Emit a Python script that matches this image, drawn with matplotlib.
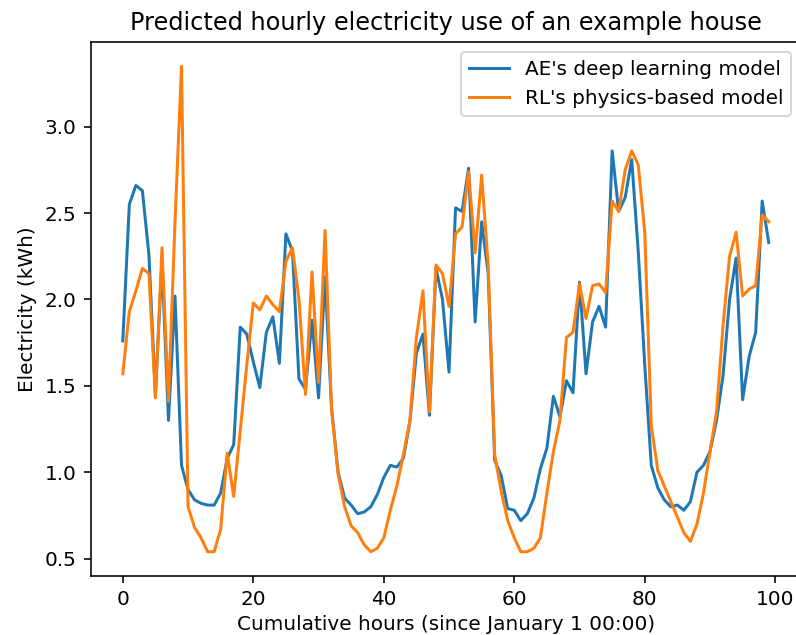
import matplotlib
matplotlib.use("Agg")
import matplotlib.pyplot as plt

hours = list(range(100))

ae_deep_learning = [
    1.76, 2.55, 2.66, 2.63, 2.26, 1.45, 2.22, 1.30, 2.02, 1.04,
    0.90, 0.84, 0.82, 0.81, 0.81, 0.88, 1.08, 1.16, 1.84, 1.80,
    1.64, 1.49, 1.81, 1.90, 1.63, 2.38, 2.28, 1.54, 1.48, 1.88,
    1.43, 2.13, 1.37, 1.00, 0.85, 0.81, 0.76, 0.77, 0.80, 0.87,
    0.97, 1.04, 1.03, 1.08, 1.29, 1.69, 1.80, 1.33, 2.18, 2.00,
    1.58, 2.53, 2.51, 2.76, 1.87, 2.45, 2.15, 1.07, 0.98, 0.79,
    0.78, 0.72, 0.76, 0.85, 1.02, 1.14, 1.44, 1.32, 1.53, 1.46,
    2.10, 1.57, 1.87, 1.96, 1.84, 2.86, 2.51, 2.59, 2.81, 2.28,
    1.62, 1.04, 0.91, 0.84, 0.80, 0.81, 0.78, 0.83, 1.00, 1.04,
    1.12, 1.30, 1.56, 2.00, 2.24, 1.42, 1.67, 1.81, 2.57, 2.33,
]

rl_physics = [
    1.57, 1.93, 2.05, 2.18, 2.15, 1.43, 2.30, 1.41, 2.45, 3.35,
    0.80, 0.68, 0.62, 0.54, 0.54, 0.67, 1.11, 0.86, 1.24, 1.62,
    1.98, 1.94, 2.02, 1.97, 1.93, 2.22, 2.30, 2.00, 1.45, 2.16,
    1.52, 2.40, 1.36, 0.99, 0.80, 0.69, 0.65, 0.58, 0.54, 0.56,
    0.62, 0.78, 0.92, 1.10, 1.30, 1.78, 2.05, 1.35, 2.20, 2.15,
    1.96, 2.38, 2.42, 2.74, 2.27, 2.72, 2.20, 1.10, 0.89, 0.72,
    0.62, 0.54, 0.54, 0.56, 0.62, 0.88, 1.12, 1.30, 1.78, 1.81,
    2.09, 1.89, 2.08, 2.09, 2.04, 2.57, 2.51, 2.75, 2.86, 2.78,
    2.39, 1.27, 1.01, 0.92, 0.83, 0.74, 0.65, 0.60, 0.70, 0.88,
    1.12, 1.35, 1.85, 2.25, 2.39, 2.02, 2.06, 2.08, 2.49, 2.45,
]

dpi = 144
fig = plt.figure(figsize=(796 / dpi, 635 / dpi), dpi=dpi)
# the original is cropped on the right, so the axes run slightly past the edge
ax = fig.add_axes([0.1137, 0.0929, 0.8926, 0.841])
ax.plot(hours, ae_deep_learning, label="AE's deep learning model")
ax.plot(hours, rl_physics, label="RL's physics-based model")
ax.set_title("Predicted hourly electricity use of an example house")
ax.set_xlabel("Cumulative hours (since January 1 00:00)", labelpad=3)
ax.set_ylabel("Electricity (kWh)")
ax.legend(loc="upper right")
fig.savefig("out.png", dpi=dpi)
